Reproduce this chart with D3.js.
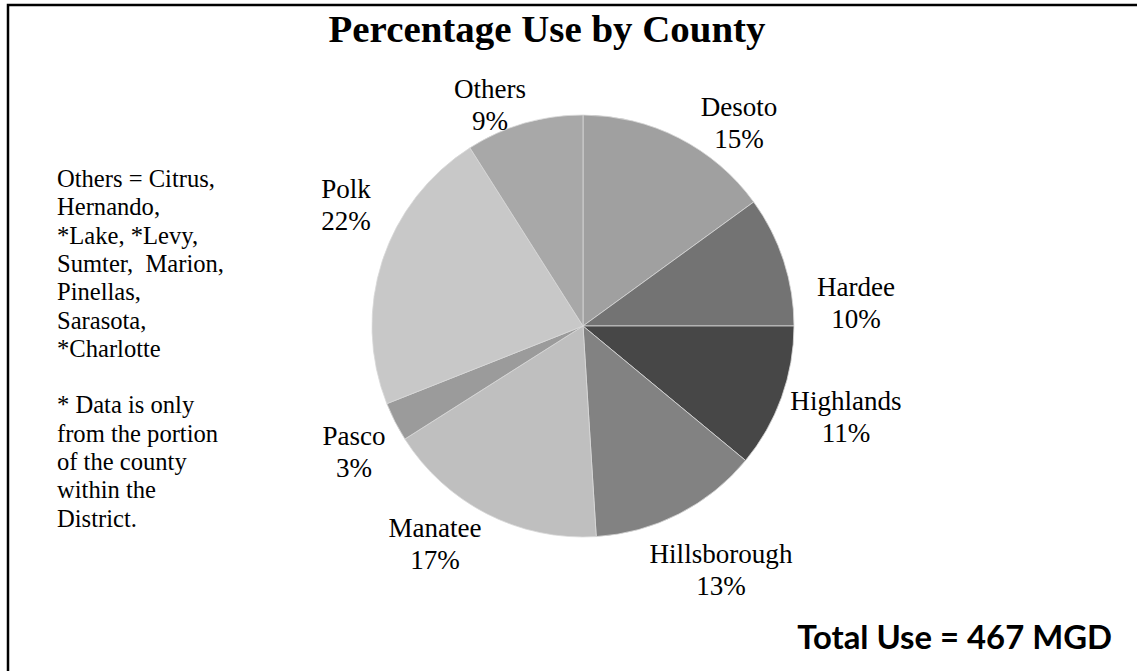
<!DOCTYPE html>
<html>
<head>
<meta charset="utf-8">
<script src="https://cdn.jsdelivr.net/npm/d3@7"></script>
<style>
  html, body { margin: 0; padding: 0; background: #fff; }
  svg { display: block; }
</style>
</head>
<body>
<svg id="chart" width="1137" height="671"></svg>
<script>
// ---- data ----
const counties = ["Desoto", "Hardee", "Highlands", "Hillsborough", "Manatee", "Pasco", "Polk", "Others"];
const percents = [15, 10, 11, 13, 17, 3, 22, 9];
const sliceColors = ["#a0a0a0", "#737373", "#474747", "#828282", "#bfbfbf", "#9b9b9b", "#c8c8c8", "#a8a8a8"];
const titleText = "Percentage Use by County";
const totalText = "Total Use = 467 MGD";
const noteLines = ["Others = Citrus,", "Hernando,", "*Lake, *Levy,", "Sumter,  Marion,", "Pinellas,", "Sarasota,", "*Charlotte", "", "* Data is only", "from the portion", "of the county", "within the", "District."];

// ---- layout (text placement, not data) ----
const labelPos = {
  Desoto: [739, 116], Hardee: [856, 296], Highlands: [846, 410], Hillsborough: [721, 563],
  Manatee: [435, 537], Pasco: [354, 445], Polk: [346, 198], Others: [490, 98]
};
const cx = 583, cy = 326, radius = 211;
const serif = "'Liberation Serif', 'Times New Roman', serif";
const sans = "Lato, 'Liberation Sans', Arial, sans-serif";

const svg = d3.select("#chart");

// frame
svg.append("rect").attr("x", 8).attr("y", 5).attr("width", 1300).attr("height", 900)
  .attr("fill", "none").attr("stroke", "#000").attr("stroke-width", 2.5);

function fitSize(sel, targetWidth) {
  const s0 = 20;
  sel.attr("font-size", s0);
  const w = sel.node().getComputedTextLength();
  const s = s0 * targetWidth / w;
  sel.attr("font-size", s);
  return s;
}

// title
const title = svg.append("text").attr("x", 547).attr("y", 42).attr("text-anchor", "middle")
  .attr("font-family", serif).attr("font-weight", "bold").attr("fill", "#000").text(titleText);
fitSize(title, 437);

// pie
const pie = d3.pie().sort(null).value(d => d.value);
const arc = d3.arc().innerRadius(0).outerRadius(radius);
const data = counties.map((c, i) => ({ name: c, value: percents[i], color: sliceColors[i] }));
const g = svg.append("g").attr("transform", `translate(${cx},${cy})`);
g.selectAll("path").data(pie(data)).join("path")
  .attr("d", arc).attr("fill", d => d.data.color)
  .attr("stroke", "#d8d8d8").attr("stroke-width", 0.8).attr("stroke-linejoin", "round");

// measure label font size
const probe = svg.append("text").attr("font-family", serif).text("Hillsborough");
const labelSize = fitSize(probe, 143);
probe.remove();

data.forEach(d => {
  const [x, y] = labelPos[d.name];
  const t = svg.append("text").attr("x", x).attr("y", y).attr("text-anchor", "middle")
    .attr("font-family", serif).attr("font-size", labelSize).attr("fill", "#000");
  t.append("tspan").attr("x", x).attr("y", y).text(d.name);
  t.append("tspan").attr("x", x).attr("y", y + 32).text(d.value + "%");
});

// notes
const probe2 = svg.append("text").attr("font-family", serif).attr("xml:space", "preserve").text(noteLines[0]);
const noteSize = fitSize(probe2, 158);
probe2.remove();
const notes = svg.append("text").attr("font-family", serif).attr("font-size", noteSize)
  .attr("fill", "#000").style("white-space", "pre");
noteLines.forEach((line, i) => {
  notes.append("tspan").attr("x", 57).attr("y", 187 + i * 28.3).text(line);
});

// total
const total = svg.append("text").attr("x", 1112).attr("y", 649).attr("text-anchor", "end")
  .attr("font-family", sans).attr("font-weight", "bold").attr("fill", "#000").text(totalText);
fitSize(total, 315);
</script>
</body>
</html>
